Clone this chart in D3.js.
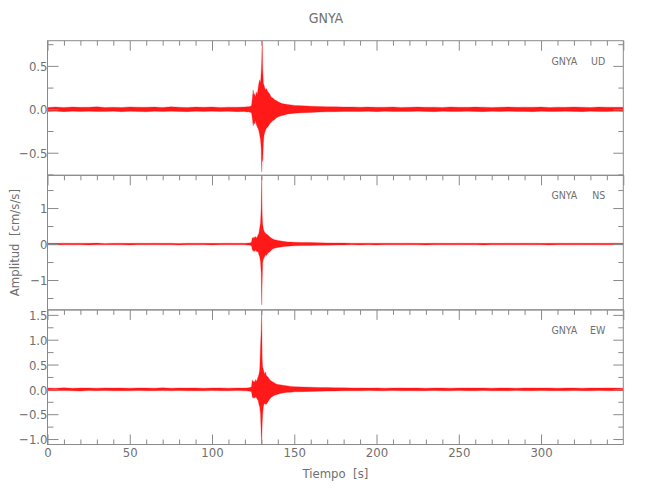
<!DOCTYPE html>
<html>
<head>
<meta charset="utf-8">
<script src="https://cdn.jsdelivr.net/npm/d3@7/dist/d3.min.js"></script>
<style>
  html, body { margin: 0; padding: 0; background: #fff; }
  svg text { font-family: "Liberation Sans Narrow", "DejaVu Sans Condensed", "Arial Narrow", sans-serif; fill: #707070; }
</style>
</head>
<body>
<svg id="chart" width="650" height="500"></svg>
<script>
// ---------------- data ----------------
const station = "GNYA";
const channels = ["UD", "NS", "EW"];
const xLabel = "Tiempo  [s]";
const yLabel = "Amplitud  [cm/s/s]";

const xTicks = [0, 50, 100, 150, 200, 250, 300];
const xMinorTicks = [10, 20, 30, 40, 60, 70, 80, 90, 110, 120, 130, 140, 160, 170, 180, 190,
  210, 220, 230, 240, 260, 270, 280, 290, 310, 320, 330, 340];
const xDomain = [0, 350];

const udTicks = [-0.5, 0, 0.5];
const udMinor = [-0.75, -0.25, 0.25, 0.75];
const udDomain = [-0.76, 0.79];
const nsTicks = [-1, 0, 1];
const nsMinor = [-1.5, -0.5, 0.5, 1.5];
const nsDomain = [-1.83, 1.91];
const ewTicks = [-1, -0.5, 0, 0.5, 1, 1.5];
const ewMinor = [-0.75, -0.25, 0.25, 0.75, 1.25];
const ewDomain = [-1.11, 1.6];

// sample times (s) of the envelope
const times = [0, 5, 10, 15, 20, 25, 30, 35, 40, 45, 50, 55, 60, 65, 70, 75, 80, 85, 90, 95, 100, 105, 110, 115, 120,
  121, 122, 123, 124, 124.5, 125, 125.5, 126, 126.5, 127, 127.5, 128, 128.5, 129, 129.5, 129.9, 130.2, 130.5, 130.8,
  131.2, 131.6, 132, 132.5, 133, 134, 135, 136, 137, 138, 139, 140, 142, 144, 146, 148, 150,
  155, 160, 165, 170, 175, 180, 185, 190, 195, 200, 205, 210, 215, 220, 225, 230, 235, 240, 245, 250,
  255, 260, 265, 270, 275, 280, 285, 290, 295, 300, 305, 310, 315, 320, 325, 330, 335, 340, 345, 350];

const udHi = [0.022, 0.026, 0.021, 0.027, 0.023, 0.025, 0.028, 0.022, 0.024, 0.021, 0.027, 0.025, 0.023, 0.026, 0.022, 0.028, 0.024, 0.021, 0.026, 0.023, 0.027, 0.022, 0.025, 0.024, 0.026,
  0.028, 0.03, 0.032, 0.04, 0.12, 0.22, 0.16, 0.18, 0.14, 0.2, 0.17, 0.24, 0.3, 0.34, 0.3, 0.42, 0.55, 0.79, 0.47,
  0.3, 0.28, 0.25, 0.22, 0.24, 0.2, 0.18, 0.14, 0.13, 0.11, 0.1, 0.09, 0.07, 0.06, 0.055, 0.05, 0.045,
  0.04, 0.035, 0.032, 0.03, 0.028, 0.026, 0.027, 0.024, 0.026, 0.023, 0.025, 0.027, 0.022, 0.024, 0.026, 0.023, 0.025, 0.022, 0.027, 0.024,
  0.023, 0.026, 0.025, 0.022, 0.024, 0.027, 0.023, 0.025, 0.024, 0.026, 0.022, 0.025, 0.023, 0.027, 0.024, 0.022, 0.026, 0.025, 0.023, 0.024];
const udLo = [-0.024, -0.022, -0.027, -0.021, -0.025, -0.023, -0.026, -0.024, -0.021, -0.027, -0.023, -0.025, -0.028, -0.022, -0.026, -0.023, -0.025, -0.027, -0.022, -0.024, -0.021, -0.026, -0.023, -0.027, -0.025,
  -0.03, -0.028, -0.033, -0.04, -0.1, -0.19, -0.15, -0.17, -0.13, -0.18, -0.2, -0.22, -0.25, -0.3, -0.35, -0.45, -0.72, -0.55, -0.6,
  -0.4, -0.3, -0.27, -0.24, -0.22, -0.2, -0.17, -0.15, -0.13, -0.12, -0.1, -0.09, -0.075, -0.065, -0.055, -0.05, -0.045,
  -0.04, -0.036, -0.031, -0.029, -0.027, -0.025, -0.024, -0.026, -0.023, -0.027, -0.022, -0.025, -0.024, -0.026, -0.021, -0.025, -0.027, -0.023, -0.024, -0.026,
  -0.022, -0.025, -0.027, -0.023, -0.026, -0.021, -0.024, -0.025, -0.027, -0.022, -0.026, -0.024, -0.023, -0.025, -0.027, -0.022, -0.024, -0.026, -0.023, -0.025];

const nsHi = [0.022, 0.02, 0.025, 0.019, 0.023, 0.021, 0.026, 0.018, 0.022, 0.024, 0.02, 0.023, 0.019, 0.025, 0.021, 0.022, 0.018, 0.024, 0.02, 0.023, 0.021, 0.019, 0.025, 0.022, 0.02,
  0.024, 0.028, 0.03, 0.05, 0.18, 0.15, 0.2, 0.17, 0.21, 0.16, 0.2, 0.25, 0.3, 0.45, 0.6, 1.0, 1.91, 0.8, 0.55,
  0.42, 0.36, 0.33, 0.3, 0.28, 0.25, 0.2, 0.17, 0.14, 0.12, 0.11, 0.1, 0.085, 0.07, 0.06, 0.055, 0.05,
  0.044, 0.04, 0.036, 0.032, 0.03, 0.027, 0.024, 0.022, 0.025, 0.021, 0.023, 0.02, 0.022, 0.024, 0.021, 0.019, 0.023, 0.022, 0.02, 0.024,
  0.021, 0.023, 0.019, 0.022, 0.02, 0.024, 0.021, 0.023, 0.022, 0.019, 0.021, 0.024, 0.02, 0.022, 0.023, 0.019, 0.022, 0.021, 0.023, 0.02];
const nsLo = [-0.021, -0.024, -0.019, -0.023, -0.02, -0.025, -0.021, -0.022, -0.019, -0.023, -0.024, -0.02, -0.022, -0.018, -0.023, -0.021, -0.025, -0.02, -0.022, -0.019, -0.024, -0.021, -0.02, -0.023, -0.022,
  -0.025, -0.028, -0.032, -0.045, -0.15, -0.2, -0.18, -0.21, -0.16, -0.2, -0.22, -0.2, -0.3, -0.35, -0.5, -0.8, -1.69, -1.0, -0.5,
  -0.42, -0.38, -0.35, -0.3, -0.32, -0.25, -0.22, -0.17, -0.13, -0.12, -0.1, -0.095, -0.08, -0.07, -0.06, -0.052, -0.048,
  -0.043, -0.039, -0.035, -0.031, -0.028, -0.026, -0.023, -0.024, -0.021, -0.024, -0.02, -0.022, -0.023, -0.019, -0.022, -0.024, -0.021, -0.02, -0.023, -0.022,
  -0.019, -0.022, -0.024, -0.021, -0.023, -0.02, -0.022, -0.019, -0.023, -0.021, -0.024, -0.02, -0.022, -0.023, -0.021, -0.019, -0.023, -0.022, -0.02, -0.022];

const ewHi = [0.028, 0.025, 0.031, 0.024, 0.027, 0.029, 0.024, 0.03, 0.026, 0.028, 0.023, 0.029, 0.027, 0.025, 0.031, 0.024, 0.028, 0.026, 0.03, 0.023, 0.027, 0.029, 0.025, 0.028, 0.026,
  0.03, 0.031, 0.036, 0.05, 0.19, 0.15, 0.17, 0.14, 0.2, 0.16, 0.2, 0.25, 0.3, 0.4, 0.86, 1.2, 1.6, 0.6, 0.45,
  0.4, 0.35, 0.3, 0.35, 0.28, 0.25, 0.2, 0.17, 0.15, 0.13, 0.11, 0.1, 0.09, 0.08, 0.07, 0.06, 0.055,
  0.048, 0.043, 0.039, 0.036, 0.033, 0.031, 0.028, 0.03, 0.026, 0.029, 0.025, 0.027, 0.03, 0.026, 0.028, 0.024, 0.029, 0.027, 0.025, 0.028,
  0.03, 0.026, 0.027, 0.024, 0.029, 0.028, 0.025, 0.027, 0.03, 0.026, 0.028, 0.024, 0.027, 0.029, 0.025, 0.028, 0.026, 0.03, 0.027, 0.025];
const ewLo = [-0.026, -0.029, -0.024, -0.028, -0.031, -0.025, -0.027, -0.023, -0.029, -0.026, -0.03, -0.024, -0.028, -0.027, -0.025, -0.029, -0.023, -0.028, -0.026, -0.03, -0.024, -0.027, -0.029, -0.025, -0.028,
  -0.03, -0.032, -0.037, -0.05, -0.15, -0.18, -0.16, -0.18, -0.15, -0.17, -0.2, -0.22, -0.3, -0.35, -0.5, -0.9, -1.11, -0.68, -0.5,
  -0.35, -0.3, -0.28, -0.3, -0.3, -0.25, -0.2, -0.16, -0.14, -0.12, -0.11, -0.1, -0.08, -0.07, -0.06, -0.06, -0.05,
  -0.046, -0.041, -0.037, -0.034, -0.031, -0.029, -0.027, -0.029, -0.025, -0.027, -0.03, -0.024, -0.028, -0.026, -0.029, -0.027, -0.023, -0.028, -0.03, -0.025,
  -0.027, -0.029, -0.024, -0.028, -0.026, -0.03, -0.025, -0.027, -0.029, -0.024, -0.028, -0.026, -0.03, -0.025, -0.027, -0.029, -0.024, -0.028, -0.026, -0.027];

// ---------------- layout ----------------
const W = 650, H = 500;
const L = 47.5, R = 623.3, T = 40.7, B = 444.5;
const ph = (B - T) / 3;
const axisColor = "#8a8a8a";
const textColor = "#707070";

const svg = d3.select("#chart");
svg.append("rect").attr("width", W).attr("height", H).attr("fill", "#fff");

const x = d3.scaleLinear().domain(xDomain).range([L, R]);

const panels = [
  { ch: channels[0], hi: udHi, lo: udLo, ticks: udTicks, minor: udMinor, domain: udDomain, fmt: d3.format(".1f") },
  { ch: channels[1], hi: nsHi, lo: nsLo, ticks: nsTicks, minor: nsMinor, domain: nsDomain, fmt: d3.format("d") },
  { ch: channels[2], hi: ewHi, lo: ewLo, ticks: ewTicks, minor: ewMinor, domain: ewDomain, fmt: d3.format(".1f") }
];

function styleAxis(g) {
  g.select(".domain").remove();
  g.selectAll(".tick line").attr("stroke", axisColor).attr("stroke-width", 1);
  g.selectAll(".tick text").attr("fill", textColor).style("font-size", "13px");
}

panels.forEach((p, i) => {
  const top = T + i * ph, bot = top + ph;
  const y = d3.scaleLinear().domain(p.domain).range([bot, top]);
  const g = svg.append("g");

  const clipId = "clip" + i;
  svg.append("clipPath").attr("id", clipId)
    .append("rect").attr("x", L).attr("y", top).attr("width", R - L).attr("height", ph);

  const area = d3.area()
    .x((d, k) => x(times[k]))
    .y0((d, k) => y(p.lo[k]))
    .y1((d, k) => y(p.hi[k]));
  g.append("path")
    .datum(times)
    .attr("clip-path", "url(#" + clipId + ")")
    .attr("d", area)
    .attr("fill", "#ff0000")
    .attr("fill-opacity", 0.9)
    .attr("stroke", "#ff0000")
    .attr("stroke-width", 0.3)
    .attr("stroke-linejoin", "round");

  // left axis (labels + inward ticks)
  g.append("g").attr("transform", `translate(${L},0)`)
    .call(d3.axisLeft(y).tickValues(p.ticks).tickSize(-11).tickPadding(0).tickFormat(p.fmt))
    .call(styleAxis)
    .selectAll(".tick text").attr("dy", "0.36em");
  g.append("g").attr("transform", `translate(${L},0)`)
    .call(d3.axisLeft(y).tickValues(p.minor).tickSize(-6).tickFormat(""))
    .call(styleAxis);
  // right axis
  g.append("g").attr("transform", `translate(${R},0)`)
    .call(d3.axisRight(y).tickValues(p.ticks).tickSize(-10).tickFormat(""))
    .call(styleAxis);
  g.append("g").attr("transform", `translate(${R},0)`)
    .call(d3.axisRight(y).tickValues(p.minor).tickSize(-5).tickFormat(""))
    .call(styleAxis);
  // top axis
  g.append("g").attr("transform", `translate(0,${top})`)
    .call(d3.axisTop(x).tickValues(xTicks.concat([350])).tickSize(-10).tickFormat(""))
    .call(styleAxis);
  g.append("g").attr("transform", `translate(0,${top})`)
    .call(d3.axisTop(x).tickValues(xMinorTicks).tickSize(-5).tickFormat(""))
    .call(styleAxis);

  if (i === 2) {
    g.append("g").attr("transform", `translate(0,${bot})`)
      .call(d3.axisBottom(x).tickValues(xTicks).tickSize(-10).tickPadding(3))
      .call(styleAxis);
    g.append("g").attr("transform", `translate(0,${bot})`)
      .call(d3.axisBottom(x).tickValues(xMinorTicks).tickSize(-5).tickFormat(""))
      .call(styleAxis);
  }

  // border
  g.append("rect").attr("x", L).attr("y", top).attr("width", R - L).attr("height", ph)
    .attr("fill", "none").attr("stroke", axisColor).attr("stroke-width", 1);

  // panel label
  g.append("text").attr("x", R - 18).attr("y", top + 24).attr("text-anchor", "end")
    .style("font-size", "10.5px").text(p.ch);
  g.append("text").attr("x", R - 46).attr("y", top + 24).attr("text-anchor", "end")
    .style("font-size", "10.5px").text(station);
});

// title
svg.append("text").attr("x", 326).attr("y", 23).attr("text-anchor", "middle")
  .style("font-size", "14px").text(station);

// axis titles
svg.append("text").attr("x", (L + R) / 2).attr("y", 478).attr("text-anchor", "middle")
  .style("font-size", "13px").style("white-space", "pre").attr("xml:space", "preserve").text(xLabel);
svg.append("text").attr("transform", `translate(19,${(T + B) / 2}) rotate(-90)`)
  .attr("text-anchor", "middle").style("font-size", "13px")
  .style("white-space", "pre").attr("xml:space", "preserve").text(yLabel);
</script>
</body>
</html>
